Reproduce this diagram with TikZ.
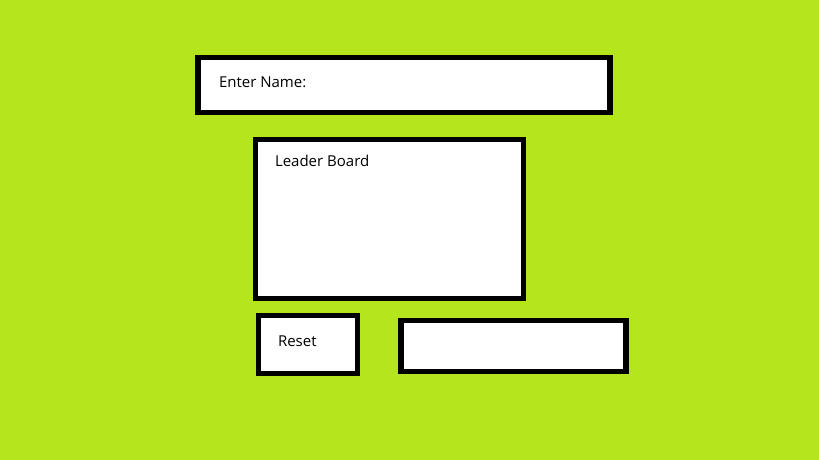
\documentclass[tikz,border=0pt]{standalone}
\usepackage{fontspec}
\setmainfont{Open Sans}
\definecolor{lime}{RGB}{181,230,29}

\begin{document}
\begin{tikzpicture}[x=1pt,y=1pt]
\tikzstyle{every node}+=[inner sep=0pt, outer sep=0pt, font=\fontsize{15}{18}\selectfont]
\tikzstyle{panel}=[draw=black, fill=white, line width=5.5pt, anchor=north west]
\fill [lime] (0,0) rectangle (819,-460);
\useasboundingbox (0,0) rectangle (819,-460);
\node [panel, minimum width=412pt, minimum height=55pt] (namebox) at (198,-57.5) {};
\node [anchor=base west] (namelabel) at (219,-87) {Enter Name:};
\node [panel, minimum width=268pt, minimum height=159pt] (boardbox) at (255.5,-139.5) {};
\node [anchor=base west] (boardlabel) at (275,-166) {Leader Board};
\node [panel, minimum width=99pt, minimum height=58pt] (resetbox) at (258.5,-315.5) {};
\node [anchor=base west] (resetlabel) at (278,-346) {Reset};
\node [panel, minimum width=225pt, minimum height=51pt] (outbox) at (401,-320.5) {};
\end{tikzpicture}
\end{document}
